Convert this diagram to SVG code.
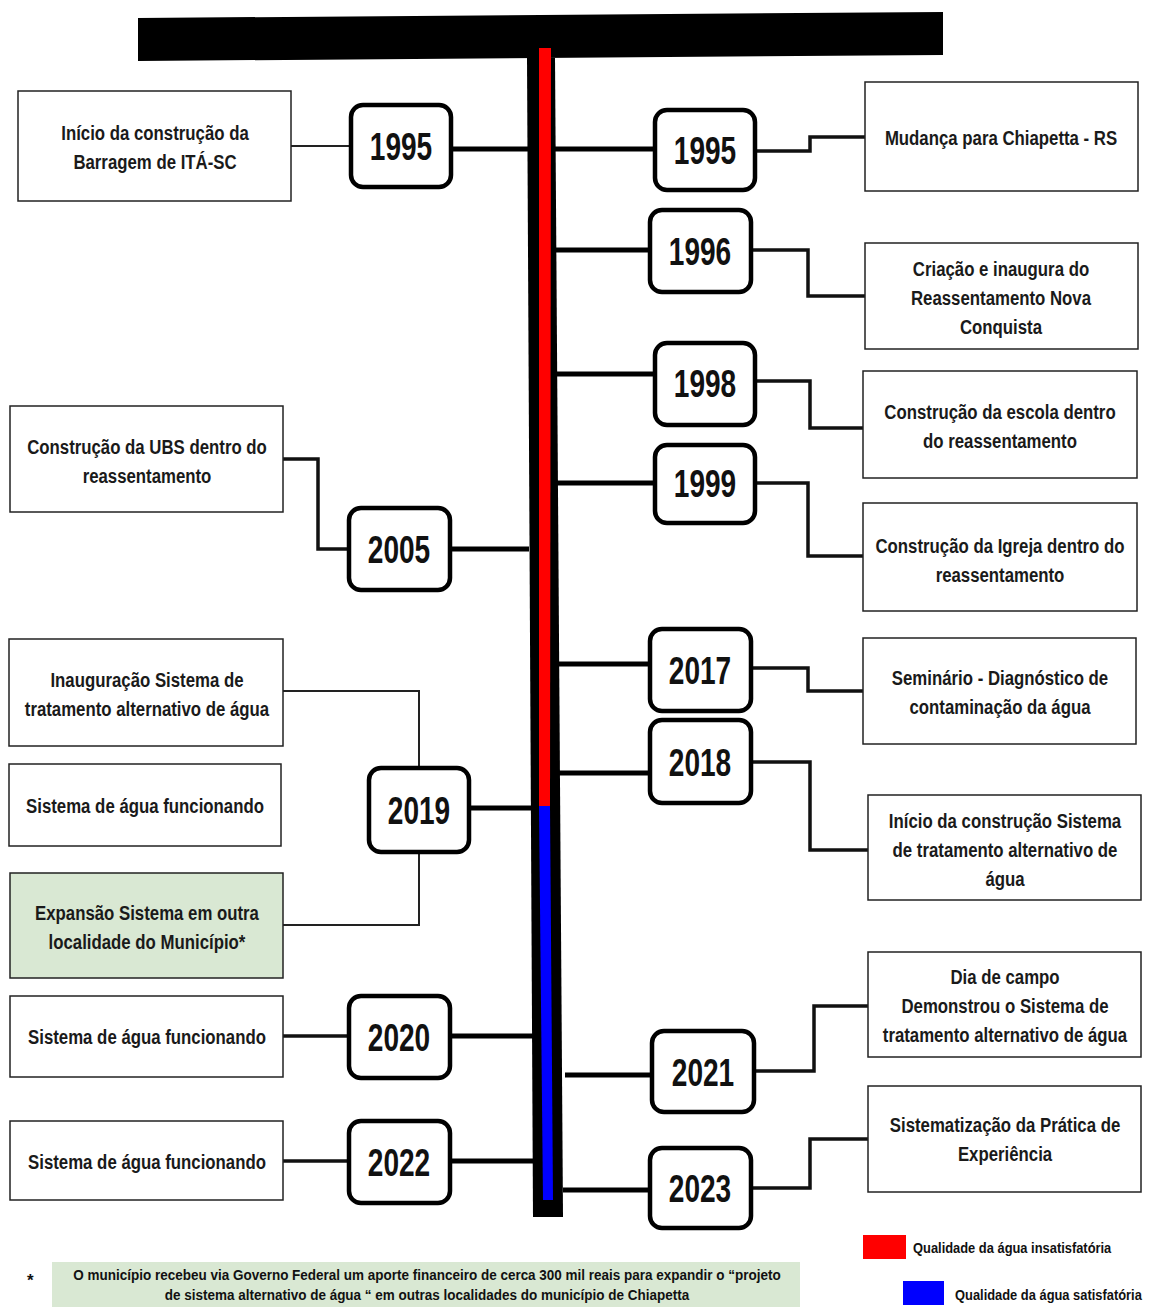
<svg xmlns="http://www.w3.org/2000/svg" width="1151" height="1307" viewBox="0 0 1151 1307">
<style>
.box{fill:#fff;stroke:#222;stroke-width:1.5}
.green{fill:#d9e8d3;stroke:#222;stroke-width:1.5}
.yr{fill:#fff;stroke:#000;stroke-width:4.5}
.t{font-family:"Liberation Sans",Arial,sans-serif;font-weight:bold;font-size:21px;fill:#1a1a1a;text-anchor:middle}
.y{font-family:"Liberation Sans",Arial,sans-serif;font-weight:bold;font-size:39px;fill:#111;text-anchor:middle}
.s{font-family:"Liberation Sans",Arial,sans-serif;font-weight:bold;font-size:15px;fill:#111}
.thick{fill:none;stroke:#000;stroke-width:5}
.mid{fill:none;stroke:#111;stroke-width:3.5}
.thin{fill:none;stroke:#222;stroke-width:2}
</style>
<rect width="1151" height="1307" fill="#fff"/>
<g id="connectors">
<path class="thick" d="M451,149 H655"/>
<path class="thin" d="M291,146 H351"/>
<path class="mid" d="M755,151 H810 V137 H865"/>
<path class="thick" d="M555,250 H650"/>
<path class="mid" d="M751,250 H808 V296 H865"/>
<path class="thick" d="M555,374 H655"/>
<path class="mid" d="M755,381 H810 V428 H863"/>
<path class="thick" d="M556,483 H655"/>
<path class="mid" d="M755,483 H808 V556 H863"/>
<path class="mid" d="M283,459 H318 V549 H349"/>
<path class="thick" d="M450,549 H529"/>
<path class="thick" d="M557,664 H650"/>
<path class="mid" d="M751,668 H808 V691 H863"/>
<path class="thick" d="M557,773 H650"/>
<path class="mid" d="M751,762 H810 V850 H868"/>
<path class="thin" d="M283,691 H419 V768"/>
<path class="thin" d="M419,852 V925 H283"/>
<path class="thick" d="M469,808 H531"/>
<path class="thick" d="M450,1036 H533"/>
<path class="mid" d="M283,1036 H349"/>
<path class="thick" d="M450,1161 H535"/>
<path class="mid" d="M283,1161 H349"/>
<path class="thick" d="M565,1075 H652"/>
<path class="mid" d="M755,1071 H814 V1006 H868"/>
<path class="thick" d="M563,1190 H650"/>
<path class="mid" d="M751,1188 H810 V1139 H868"/>
</g>
<g id="timeline">
<polygon points="138,18 943,12 943,55 138,61" fill="#000"/>
<polygon points="527,58 555,58 563,1217 533,1217" fill="#000"/>
<polygon points="539,48 551,48 550,806 539,806" fill="#f00"/>
<polygon points="539,806 550,806 553,1200 543,1200" fill="#00f"/>
</g>
<g id="n-inicio-barragem"><rect class="box" x="18" y="91" width="273" height="110"/><g transform="translate(155 0) scale(0.8 1)"><text class="t" x="0" y="140">Início da construção da</text><text class="t" x="0" y="169">Barragem de ITÁ-SC</text></g></g>
<g id="y-1995-left"><rect class="yr" x="351" y="105" width="100" height="82" rx="12"/><g transform="translate(401 0) scale(0.72 1)"><text class="y" x="0" y="160">1995</text></g></g>
<g id="y-1995-right"><rect class="yr" x="655" y="110" width="100" height="80" rx="12"/><g transform="translate(705 0) scale(0.72 1)"><text class="y" x="0" y="164">1995</text></g></g>
<g id="n-mudanca"><rect class="box" x="865" y="82" width="273" height="109"/><g transform="translate(1001 0) scale(0.8 1)"><text class="t" x="0" y="145">Mudança para Chiapetta - RS</text></g></g>
<g id="y-1996"><rect class="yr" x="650" y="210" width="101" height="82" rx="12"/><g transform="translate(700 0) scale(0.72 1)"><text class="y" x="0" y="265">1996</text></g></g>
<g id="n-criacao"><rect class="box" x="865" y="243" width="273" height="106"/><g transform="translate(1001 0) scale(0.8 1)"><text class="t" x="0" y="276">Criação e inaugura  do</text><text class="t" x="0" y="305">Reassentamento Nova</text><text class="t" x="0" y="334">Conquista</text></g></g>
<g id="y-1998"><rect class="yr" x="655" y="343" width="100" height="82" rx="12"/><g transform="translate(705 0) scale(0.72 1)"><text class="y" x="0" y="397">1998</text></g></g>
<g id="n-escola"><rect class="box" x="863" y="371" width="274" height="107"/><g transform="translate(1000 0) scale(0.8 1)"><text class="t" x="0" y="419">Construção da escola dentro</text><text class="t" x="0" y="448">do reassentamento</text></g></g>
<g id="y-1999"><rect class="yr" x="655" y="445" width="100" height="78" rx="12"/><g transform="translate(705 0) scale(0.72 1)"><text class="y" x="0" y="497">1999</text></g></g>
<g id="n-igreja"><rect class="box" x="863" y="503" width="274" height="108"/><g transform="translate(1000 0) scale(0.8 1)"><text class="t" x="0" y="553">Construção da Igreja dentro do</text><text class="t" x="0" y="582">reassentamento</text></g></g>
<g id="n-ubs"><rect class="box" x="10" y="406" width="273" height="106"/><g transform="translate(147 0) scale(0.8 1)"><text class="t" x="0" y="454">Construção da UBS dentro do</text><text class="t" x="0" y="483">reassentamento</text></g></g>
<g id="y-2005"><rect class="yr" x="349" y="508" width="101" height="82" rx="12"/><g transform="translate(399 0) scale(0.72 1)"><text class="y" x="0" y="563">2005</text></g></g>
<g id="y-2017"><rect class="yr" x="650" y="629" width="101" height="82" rx="12"/><g transform="translate(700 0) scale(0.72 1)"><text class="y" x="0" y="684">2017</text></g></g>
<g id="n-seminario"><rect class="box" x="863" y="638" width="273" height="106"/><g transform="translate(1000 0) scale(0.8 1)"><text class="t" x="0" y="685">Seminário - Diagnóstico de</text><text class="t" x="0" y="714">contaminação da água</text></g></g>
<g id="y-2018"><rect class="yr" x="650" y="720" width="101" height="83" rx="12"/><g transform="translate(700 0) scale(0.72 1)"><text class="y" x="0" y="776">2018</text></g></g>
<g id="n-inicio-sistema"><rect class="box" x="868" y="795" width="273" height="105"/><g transform="translate(1005 0) scale(0.8 1)"><text class="t" x="0" y="828">Início da construção Sistema</text><text class="t" x="0" y="857">de tratamento alternativo de</text><text class="t" x="0" y="886">água</text></g></g>
<g id="n-inauguracao"><rect class="box" x="9" y="639" width="274" height="107"/><g transform="translate(147 0) scale(0.8 1)"><text class="t" x="0" y="687">Inauguração Sistema de</text><text class="t" x="0" y="716">tratamento alternativo de água</text></g></g>
<g id="n-funcionando-2019"><rect class="box" x="9" y="764" width="272" height="82"/><g transform="translate(145 0) scale(0.8 1)"><text class="t" x="0" y="813">Sistema de água funcionando</text></g></g>
<g id="y-2019"><rect class="yr" x="369" y="768" width="100" height="84" rx="12"/><g transform="translate(419 0) scale(0.72 1)"><text class="y" x="0" y="824">2019</text></g></g>
<g id="n-expansao"><rect class="green" x="10" y="873" width="273" height="105"/><g transform="translate(147 0) scale(0.8 1)"><text class="t" x="0" y="920">Expansão  Sistema em outra</text><text class="t" x="0" y="949">localidade do Município*</text></g></g>
<g id="y-2020"><rect class="yr" x="349" y="996" width="101" height="82" rx="12"/><g transform="translate(399 0) scale(0.72 1)"><text class="y" x="0" y="1051">2020</text></g></g>
<g id="n-funcionando-2020"><rect class="box" x="10" y="996" width="273" height="81"/><g transform="translate(147 0) scale(0.8 1)"><text class="t" x="0" y="1044">Sistema de água funcionando</text></g></g>
<g id="y-2022"><rect class="yr" x="349" y="1121" width="101" height="82" rx="12"/><g transform="translate(399 0) scale(0.72 1)"><text class="y" x="0" y="1176">2022</text></g></g>
<g id="n-funcionando-2022"><rect class="box" x="10" y="1121" width="273" height="79"/><g transform="translate(147 0) scale(0.8 1)"><text class="t" x="0" y="1169">Sistema de água funcionando</text></g></g>
<g id="y-2021"><rect class="yr" x="652" y="1031" width="102" height="81" rx="12"/><g transform="translate(703 0) scale(0.72 1)"><text class="y" x="0" y="1086">2021</text></g></g>
<g id="n-dia-campo"><rect class="box" x="868" y="952" width="273" height="105"/><g transform="translate(1005 0) scale(0.8 1)"><text class="t" x="0" y="984">Dia de campo</text><text class="t" x="0" y="1013">Demonstrou o Sistema de</text><text class="t" x="0" y="1042">tratamento alternativo de água</text></g></g>
<g id="y-2023"><rect class="yr" x="650" y="1148" width="101" height="80" rx="12"/><g transform="translate(700 0) scale(0.72 1)"><text class="y" x="0" y="1202">2023</text></g></g>
<g id="n-sistematizacao"><rect class="box" x="868" y="1086" width="273" height="106"/><g transform="translate(1005 0) scale(0.8 1)"><text class="t" x="0" y="1132">Sistematização da Prática de</text><text class="t" x="0" y="1161">Experiência</text></g></g>
<g id="legend">
<rect x="863" y="1235" width="43" height="24" fill="#f00"/>
<g transform="translate(913 0) scale(0.86 1)"><text class="s" x="0" y="1253">Qualidade da água insatisfatória</text></g>
<rect x="903" y="1281" width="41" height="24" fill="#00f"/>
<g transform="translate(955 0) scale(0.86 1)"><text class="s" x="0" y="1300">Qualidade da água satisfatória</text></g>
</g>
<g id="footnote">
<text class="s" x="27" y="1286" style="font-size:17px">*</text>
<rect x="52" y="1262" width="748" height="45" fill="#d9e8d3"/>
<g transform="translate(427 0) scale(0.9 1)"><text class="s" x="0" y="1280" text-anchor="middle">O município recebeu via Governo Federal um aporte  financeiro de cerca  300 mil reais para expandir o “projeto</text>
<text class="s" x="0" y="1300" text-anchor="middle">de sistema alternativo de água “ em outras localidades do município de Chiapetta</text></g>
</g>
</svg>
